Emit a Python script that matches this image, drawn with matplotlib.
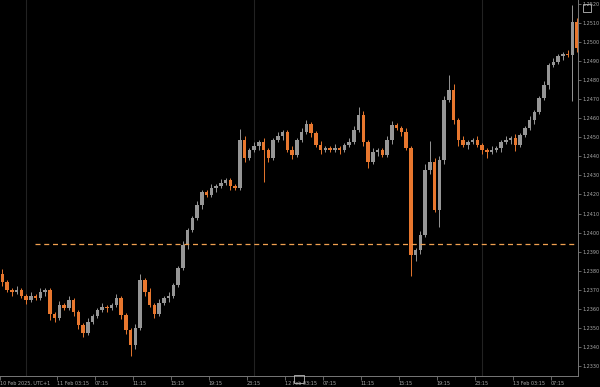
import numpy as np
import matplotlib
matplotlib.use("Agg")
import matplotlib.pyplot as plt
from matplotlib.patches import Rectangle

# 30-minute candles starting 10 Feb 21:15 (UTC+1)
first_open = 1.2378
closes = [
    1.23740, 1.23699, 1.23688, 1.23699, 1.23667, 1.23646, 1.23667, 1.23657, 1.23688, 1.23699,
    1.23573, 1.23552, 1.23620, 1.23604, 1.23646, 1.23583, 1.23515, 1.23473, 1.23531, 1.23562,
    1.23594, 1.23609, 1.23604, 1.23620, 1.23657, 1.23567, 1.23489, 1.23410, 1.23499, 1.23751,
    1.23688, 1.23620, 1.23573, 1.23630, 1.23657, 1.23667, 1.23725, 1.23814, 1.23935, 1.24014,
    1.24077, 1.24145, 1.24213, 1.24197, 1.24234, 1.24245, 1.24260, 1.24276, 1.24245, 1.24234,
    1.24486, 1.24392, 1.24434, 1.24455, 1.24476, 1.24434, 1.24392, 1.24486, 1.24507, 1.24528,
    1.24434, 1.24407, 1.24486, 1.24528, 1.24570, 1.24523, 1.24460, 1.24434, 1.24444, 1.24434,
    1.24444, 1.24434, 1.24460, 1.24476, 1.24539, 1.24617, 1.24476, 1.24371, 1.24423, 1.24434,
    1.24407, 1.24486, 1.24565, 1.24549, 1.24528, 1.24444, 1.23882, 1.23909, 1.23987, 1.24329,
    1.24371, 1.24119, 1.24381, 1.24696, 1.24749, 1.24591, 1.24486, 1.24460, 1.24476, 1.24486,
    1.24460, 1.24434, 1.24423, 1.24434, 1.24444, 1.24476, 1.24486, 1.24497, 1.24460, 1.24512,
    1.24549, 1.24591, 1.24633, 1.24707, 1.24775, 1.24880, 1.24896, 1.24927, 1.24938, 1.24932,
    1.25106, 1.24969,
]
# wick lengths in pips above / below the candle body
wick_up = [
    3, 1, 1, 2, 1, 1, 2, 1, 2, 1,
    1, 1, 2, 1, 2, 1, 1, 1, 2, 1,
    1, 2, 1, 1, 2, 1, 1, 1, 2, 3,
    1, 2, 1, 2, 1, 2, 1, 1, 2, 1,
    1, 2, 1, 1, 2, 1, 2, 1, 1, 1,
    6, 2, 1, 2, 1, 2, 1, 1, 2, 1,
    1, 2, 1, 2, 2, 1, 1, 2, 1, 1,
    2, 1, 1, 2, 2, 4, 2, 1, 2, 1,
    1, 2, 2, 1, 1, 2, 1, 1, 2, 3,
    11, 2, 2, 2, 8, 3, 1, 2, 1, 1,
    2, 1, 1, 2, 1, 1, 2, 1, 2, 1,
    1, 2, 1, 1, 2, 1, 2, 1, 1, 2,
    9, 2,
]
wick_dn = [
    2, 1, 2, 1, 1, 2, 1, 1, 1, 2,
    3, 2, 1, 1, 1, 2, 2, 2, 1, 1,
    1, 1, 2, 1, 1, 2, 2, 6, 2, 1,
    2, 1, 2, 1, 1, 2, 1, 1, 1, 2,
    1, 1, 2, 1, 1, 2, 1, 1, 2, 1,
    1, 2, 1, 1, 2, 17, 2, 1, 1, 2,
    1, 2, 1, 1, 1, 2, 1, 2, 1, 1,
    1, 2, 1, 1, 1, 1, 2, 3, 1, 2,
    1, 1, 2, 1, 2, 1, 11, 3, 2, 1,
    2, 1, 9, 2, 1, 2, 3, 1, 2, 1,
    1, 2, 3, 1, 1, 2, 1, 2, 3, 1,
    1, 1, 2, 1, 1, 2, 1, 1, 2, 1,
    24, 2,
]
ref_level = 1.2394

y_ticks = [1.2330 + 0.001 * k for k in range(20)]
x_tick_hours = [0, 6, 10, 14, 18, 22, 26, 30, 34, 38, 42, 46, 50, 54, 58]
x_tick_labels = ["10 Feb 2025, UTC+1", "11 Feb 03:15", "07:15", "11:15", "15:15",
                 "19:15", "23:15", "12 Feb 03:15", "07:15", "11:15", "15:15",
                 "19:15", "23:15", "13 Feb 03:15", "07:15"]
day_breaks = [2.75, 26.75, 50.75]

up_col = "#969696"
dn_col = "#e8772e"
txt_col = "#a8a8a8"

closes = np.array(closes)
opens = np.concatenate([[first_open], closes[:-1]])
t = 0.25 + 0.5 * np.arange(len(closes))
top = np.maximum(opens, closes)
bot = np.minimum(opens, closes)
highs = top + np.array(wick_up) * 0.0001
lows = bot - np.array(wick_dn) * 0.0001
cols = [up_col if c >= o else dn_col for o, c in zip(opens, closes)]

fig = plt.figure(figsize=(6, 3.87), dpi=100, facecolor="black")
ax = fig.add_axes([0, 11 / 387, 578 / 600, 376 / 387], facecolor="black")

for d in day_breaks:
    ax.axvline(d, color="#222222", lw=0.8, zorder=0)

ax.vlines(t, lows, highs, colors=cols, lw=0.7, zorder=2)
heights = np.maximum(top - bot, 0.00003)
ax.bar(t, heights, bottom=bot, width=0.36, color=cols, lw=0, zorder=3)

ax.hlines(ref_level, 3.7, 60.8, colors="#f0a050", linestyles=(0, (4, 3)), lw=0.9, zorder=4)

ax.set_xlim(0, 60.85)
ax.set_ylim(1.23247, 1.25221)

ax.yaxis.tick_right()
ax.set_yticks(y_ticks)
ax.set_yticklabels(["%.4f" % v for v in y_ticks])
ax.set_xticks(x_tick_hours)
ax.set_xticklabels(x_tick_labels)
for lab in ax.get_xticklabels():
    lab.set_ha("left")
ax.tick_params(axis="x", colors="#777777", labelcolor=txt_col, labelsize=3.5,
               length=3, width=0.6, pad=0.5)
ax.tick_params(axis="y", colors="#777777", labelcolor=txt_col, labelsize=3.5,
               length=2, width=0.6, pad=1)

for s in ["left", "top"]:
    ax.spines[s].set_visible(False)
for s in ["right", "bottom"]:
    ax.spines[s].set_color("#777777")
    ax.spines[s].set_linewidth(0.7)

# small window icons
fig.add_artist(Rectangle((583 / 600, 1 - 12 / 387), 8 / 600, 8 / 387, fill=False,
                         ec="#bbbbbb", lw=0.6, transform=fig.transFigure))
fig.add_artist(Rectangle((294 / 600, 1 - 383 / 387), 10 / 600, 8 / 387, fill=False,
                         ec="#bbbbbb", lw=0.6, transform=fig.transFigure))

fig.savefig("out.png", dpi=100, facecolor="black")
